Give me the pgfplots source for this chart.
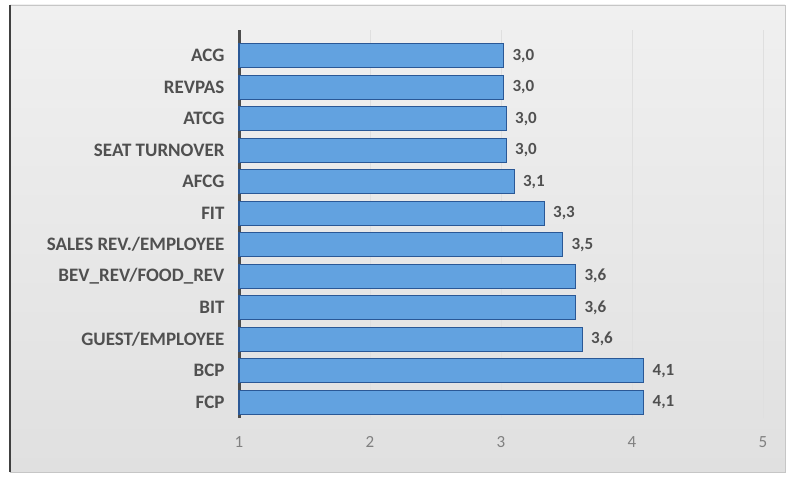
\documentclass[border=0pt]{standalone}
\usepackage{fontspec}
\setmainfont{Carlito}
\usepackage{pgfplots}
\pgfplotsset{compat=1.18}
\definecolor{barfill}{RGB}{98,162,224}
\definecolor{baredge}{RGB}{42,88,150}
\definecolor{lbl}{RGB}{80,80,80}
\definecolor{tickc}{RGB}{128,128,128}
\begin{document}
\begin{tikzpicture}[x=1pt,y=1pt]
\fill[white] (0,0) rectangle (790,477);
\shade[top color={rgb,255:red,240;green,240;blue,240}, bottom color={rgb,255:red,224;green,224;blue,224}] (10,5) rectangle (785,472);
\draw[gray!45] (10,5) rectangle (785,472);
\draw[black!75, line width=2pt] (10,5) -- (10,472);
\begin{axis}[
  at={(239pt,59pt)}, anchor=south west,
  scale only axis, width=524pt, height=387.5pt,
  xbar, bar width=24pt,
  xmin=1, xmax=5, ymin=-0.5, ymax=11.8,
  axis x line*=bottom, axis y line*=left,
  x axis line style={draw=none},
  y axis line style={draw=black!70, line width=3pt, -},
  xtick={1,2,3,4,5},
  ytick={0,...,11},
  yticklabels={FCP,BCP,GUEST/EMPLOYEE,BIT,BEV\_REV/FOOD\_REV,SALES REV./EMPLOYEE,FIT,AFCG,SEAT TURNOVER,ATCG,REVPAS,ACG},
  major tick length=0pt,
  xmajorgrids, grid style={gray!25, line width=0.8pt},
  /pgf/number format/assume math mode=true,
  xticklabel style={font=\fontsize{17}{20}\selectfont, text=tickc, yshift=-15pt},
  yticklabel style={font=\fontsize{19}{22}\selectfont\bfseries, text=lbl, xshift=-11pt},
  point meta=x,
  nodes near coords={\pgfmathprintnumber[fixed,fixed zerofill,precision=1,use comma]{\pgfplotspointmeta}},
  nodes near coords style={font=\fontsize{17}{20}\selectfont\bfseries, text=lbl, xshift=5pt},
  clip=false,
]
\addplot[draw=baredge, line width=1.2pt, fill=barfill] coordinates {
  (4.09,0) (4.09,1) (3.62,2) (3.57,3) (3.57,4) (3.47,5) (3.33,6) (3.10,7) (3.04,8) (3.04,9) (3.02,10) (3.02,11)
};
\end{axis}
\end{tikzpicture}
\end{document}
